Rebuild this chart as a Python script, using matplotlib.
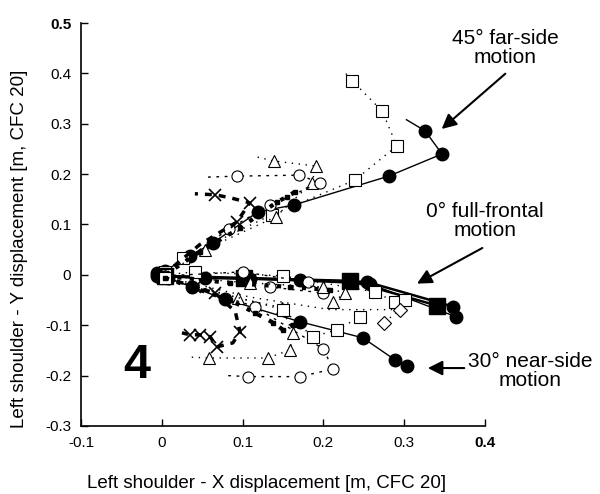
import numpy as np
import matplotlib.pyplot as plt

plt.rcParams['font.family'] = ['Liberation Sans', 'DejaVu Sans']

# shoulder X/Y paths, 45 deg far-side runs
f45_x = [-0.006, 0.004, 0.035, 0.063, 0.119, 0.164, 0.281, 0.347, 0.326, 0.303]
f45_y = [0.004, 0.008, 0.038, 0.063, 0.125, 0.139, 0.196, 0.240, 0.286, 0.308]
s45_x = [0.004, 0.026, 0.136, 0.239, 0.291, 0.273, 0.236, 0.224]
s45_y = [0.006, 0.034, 0.119, 0.188, 0.256, 0.325, 0.385, 0.407]
t45_x = [0.004, 0.053, 0.141, 0.186, 0.191, 0.139, 0.118]
t45_y = [0.000, 0.050, 0.115, 0.183, 0.216, 0.226, 0.234]
c45_x = [0.004, 0.083, 0.134, 0.196, 0.170, 0.093, 0.056]
c45_y = [0.000, 0.091, 0.139, 0.183, 0.198, 0.196, 0.194]
x45_x = [0.002, 0.047, 0.093, 0.109, 0.085, 0.066, 0.041]
x45_y = [0.000, 0.060, 0.105, 0.143, 0.153, 0.159, 0.161]
q45_x = [0.004, 0.047, 0.097, 0.143, 0.155, 0.165]
q45_y = [0.000, 0.046, 0.093, 0.145, 0.155, 0.165]

# 0 deg full-frontal runs
f0a_x = [-0.006, 0.053, 0.171, 0.254, 0.361]
f0a_y = [-0.002, -0.006, -0.010, -0.014, -0.063]
f0b_x = [-0.002, 0.109, 0.258, 0.364]
f0b_y = [-0.004, -0.008, -0.018, -0.083]
fs0_x = [0.004, 0.102, 0.233, 0.341]
fs0_y = [-0.002, -0.006, -0.012, -0.061]
s0_x = [0.004, 0.041, 0.150, 0.264, 0.289, 0.301]
s0_y = [0.000, 0.006, -0.002, -0.034, -0.054, -0.050]
c0_x = [0.004, 0.100, 0.181, 0.200, 0.134]
c0_y = [-0.002, 0.006, -0.014, -0.036, -0.024]
t0_x = [0.004, 0.109, 0.200, 0.227, 0.212]
t0_y = [-0.002, -0.016, -0.024, -0.036, -0.054]
q0_x = [0.004, 0.084, 0.159, 0.208]
q0_y = [-0.002, -0.016, -0.024, -0.030]
d0_x = [0.004, 0.109, 0.208, 0.295, 0.275]
d0_y = [-0.004, -0.044, -0.069, -0.069, -0.095]

# 30 deg near-side runs
f30_x = [-0.004, 0.008, 0.037, 0.078, 0.171, 0.249, 0.289, 0.304]
f30_y = [-0.002, -0.006, -0.024, -0.048, -0.093, -0.125, -0.169, -0.181]
x30_x = [0.002, 0.041, 0.066, 0.091, 0.097, 0.088, 0.068, 0.060, 0.047, 0.035, 0.025]
x30_y = [-0.004, -0.024, -0.036, -0.073, -0.113, -0.135, -0.143, -0.123, -0.119, -0.119, -0.115]
t30_x = [0.004, 0.094, 0.149, 0.162, 0.159, 0.131, 0.058, 0.031]
t30_y = [-0.006, -0.046, -0.065, -0.115, -0.149, -0.165, -0.165, -0.163]
c30_x = [0.004, 0.115, 0.200, 0.212, 0.171, 0.107, 0.082]
c30_y = [-0.006, -0.063, -0.147, -0.187, -0.202, -0.202, -0.200]
s30_x = [0.004, 0.150, 0.187, 0.217, 0.246]
s30_y = [-0.006, -0.069, -0.123, -0.109, -0.083]
q30_x = [0.004, 0.084, 0.115, 0.138, 0.150, 0.162]
q30_y = [-0.006, -0.050, -0.075, -0.095, -0.109, -0.099]

fig = plt.figure(figsize=(6.0, 4.94), dpi=100)
ax = fig.add_axes([0.135, 0.1377, 0.673, 0.8157])

filled = dict(color='k', marker='o', ms=9, lw=1.0)
open_sq = dict(color='k', marker='s', ms=8, mfc='white', mew=0.8, lw=1.0, ls=(0, (1, 4)))
open_tri = dict(color='k', marker='^', ms=8, mfc='white', mew=0.8, lw=1.0, ls=(0, (1, 4)))
open_circ = dict(color='k', marker='o', ms=8, mfc='white', mew=0.8, lw=1.0, ls=(0, (2, 4)))
cross = dict(color='k', marker='x', ms=9, mew=1.2, lw=2.5, ls=(0, (2, 2)))
small_sq = dict(color='k', marker='s', ms=3, lw=3, ls=(0, (1, 2)))
diamond = dict(color='k', marker='D', ms=7, mfc='white', mew=0.8, lw=1.0, ls=(0, (1, 4)))

# 45 deg
ax.plot(f45_x, f45_y, markevery=slice(0, -1), **filled)
ax.plot(s45_x, s45_y, markevery=slice(0, -1), **open_sq)
ax.plot(t45_x, t45_y, markevery=slice(0, -1), **open_tri)
ax.plot(c45_x, c45_y, markevery=slice(0, -1), **open_circ)
ax.plot(x45_x, x45_y, markevery=[0, 2, 3, 5], **cross)
ax.plot(q45_x, q45_y, **small_sq)

# 0 deg
ax.plot(fs0_x, fs0_y, color='k', marker='s', ms=11, lw=1.8)
ax.plot(f0a_x, f0a_y, color='k', marker='o', ms=9, lw=1.8)
ax.plot(f0b_x, f0b_y, **filled)
ax.plot(s0_x, s0_y, **open_sq)
ax.plot(c0_x, c0_y, **open_circ)
ax.plot(t0_x, t0_y, **open_tri)
ax.plot(q0_x, q0_y, **small_sq)
ax.plot(d0_x, d0_y, markevery=[3, 4], **diamond)

# 30 deg
ax.plot(f30_x, f30_y, **filled)
ax.plot(x30_x, x30_y, markevery=[0, 1, 2, 4, 6, 7, 8, 9], **cross)
ax.plot(t30_x, t30_y, markevery=slice(0, -1), **open_tri)
ax.plot(c30_x, c30_y, markevery=slice(0, -1), **open_circ)
ax.plot(s30_x, s30_y, **open_sq)
ax.plot(q30_x, q30_y, **small_sq)

ax.set_xlim(-0.1, 0.4)
ax.set_ylim(-0.3, 0.5)
ax.set_xticks(np.arange(-0.1, 0.41, 0.1))
ax.set_yticks(np.arange(-0.3, 0.51, 0.1))
ax.set_xticklabels(['-0.1', '0', '0.1', '0.2', '0.3', '0.4'])
ax.set_yticklabels(['-0.3', '-0.2', '-0.1', '0', '0.1', '0.2', '0.3', '0.4', '0.5'])
ax.get_xticklabels()[-1].set_fontweight('bold')
ax.get_yticklabels()[-1].set_fontweight('bold')
ax.tick_params(direction='in', length=5, width=1, labelsize=11, pad=7)
for side in ['top', 'right']:
    ax.spines[side].set_visible(False)
for side in ['left', 'bottom']:
    ax.spines[side].set_linewidth(1.2)

ax.set_xlabel('Left shoulder - X displacement [m, CFC 20]', fontsize=13.5)
ax.set_ylabel('Left shoulder - Y displacement [m, CFC 20]', fontsize=13.5)
ax.xaxis.set_label_coords(0.46, -0.122)
ax.yaxis.set_label_coords(-0.131, 0.44)

ax.text(-0.031, -0.179, '4', fontsize=35, fontweight='bold', ha='center', va='center')

arrow = dict(arrowstyle='-|>', color='k', lw=1.5, mutation_scale=22)
ax.text(0.425, 0.45, '45° far-side\nmotion', fontsize=15, ha='center', va='center',
        linespacing=1.0)
ax.annotate('', xy=(0.344, 0.286), xytext=(0.428, 0.403), arrowprops=arrow)
ax.text(0.40, 0.107, '0° full-frontal\nmotion', fontsize=15, ha='center', va='center',
        linespacing=1.0)
ax.annotate('', xy=(0.313, -0.020), xytext=(0.40, 0.056), arrowprops=arrow)
ax.text(0.456, -0.19, '30° near-side\nmotion', fontsize=15, ha='center', va='center',
        linespacing=1.0)
ax.annotate('', xy=(0.326, -0.185), xytext=(0.378, -0.185), arrowprops=arrow)

fig.savefig('out.png', dpi=100)
